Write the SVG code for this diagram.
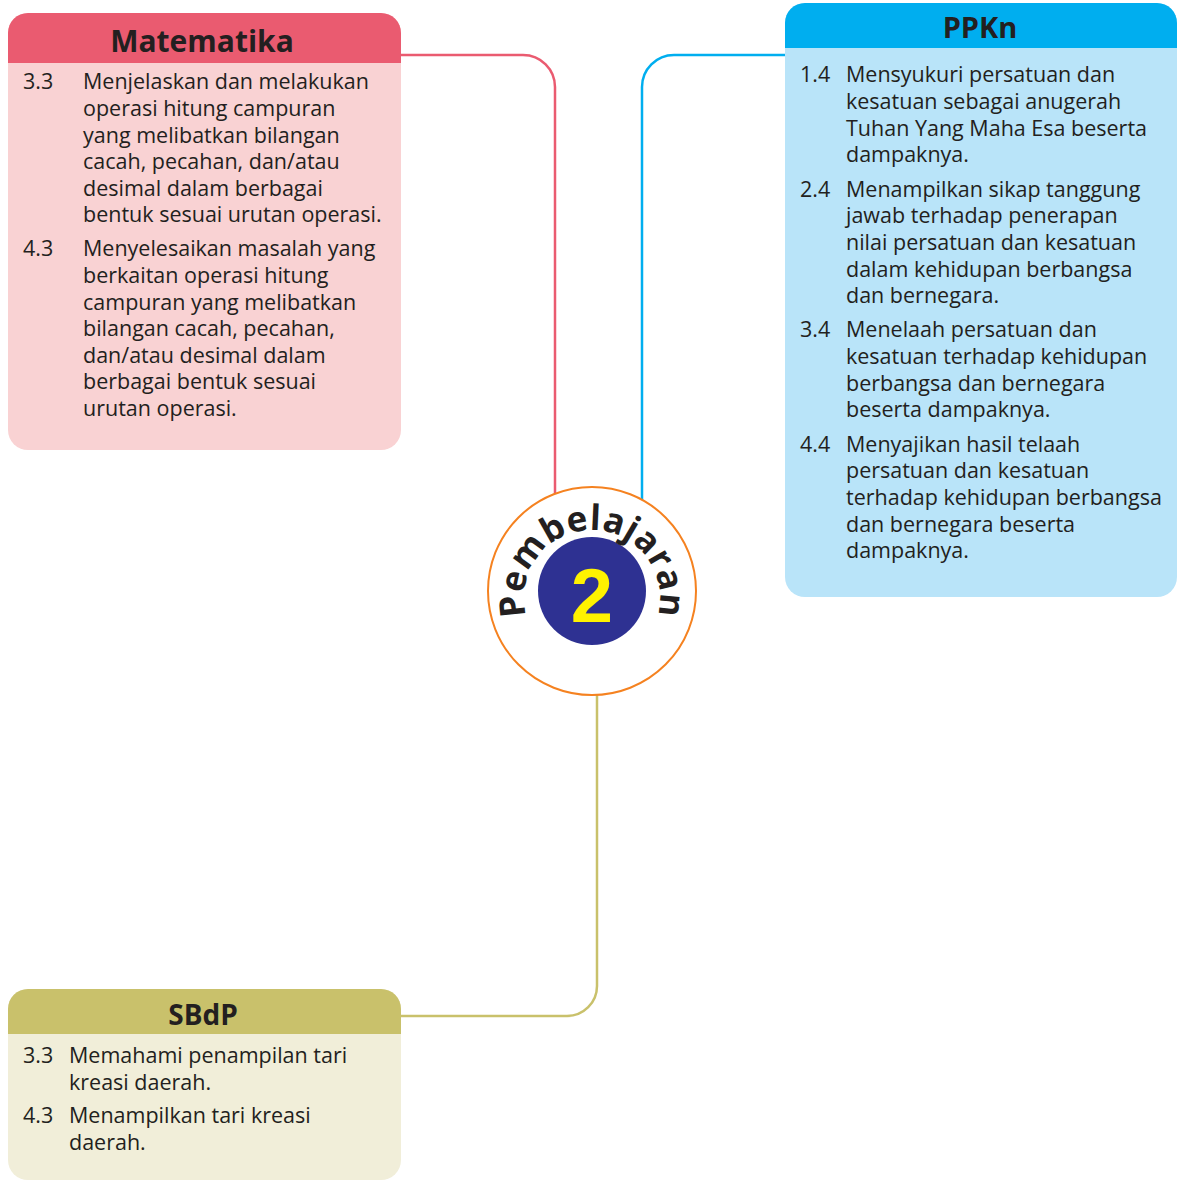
<svg xmlns="http://www.w3.org/2000/svg" width="1177" height="1181" viewBox="0 0 1177 1181">
  <style>
    .body { font-family: "Open Sans", "Noto Sans", sans-serif; font-size: 21.5px; fill: #231F20; }
    .head { font-family: "Open Sans", "Noto Sans", sans-serif; font-weight: 700; fill: #231F20; text-anchor: middle; }
    .conn { fill: none; stroke-width: 2.5; }
  </style>
  <defs>
    <!-- full circle starting at the bottom, so 50% sits at the top -->
    <path id="ringPath" d="M592,666 A68,68 0 1 1 592,530 A68,68 0 1 1 592,666"/>
  </defs>

  <rect width="1177" height="1181" fill="#FFFFFF"/>

  <!-- connectors from the centre badge to each subject box -->
  <g id="connectors">
    <path class="conn" stroke="#EA5B70" d="M401,55 H523 A32,32 0 0 1 555,87 V500"/>
    <path class="conn" stroke="#00AEEF" d="M785,55 H674 A32,32 0 0 0 642,87 V505"/>
    <path class="conn" stroke="#C9C16B" d="M597,680 V986 A30,30 0 0 1 567,1016 H401"/>
  </g>

  <!-- Matematika -->
  <g id="matematika">
    <rect x="8" y="13" width="393" height="437" rx="20" fill="#F9D2D3"/>
    <path d="M8,63 V33 A20,20 0 0 1 28,13 H381 A20,20 0 0 1 401,33 V63 Z" fill="#EA5B70"/>
    <text class="head" x="202" y="52" font-size="30">Matematika</text>
    <text class="body" x="23" y="89">3.3</text>
    <text class="body">
      <tspan x="83" y="89">Menjelaskan dan melakukan</tspan>
      <tspan x="83" y="116">operasi hitung campuran</tspan>
      <tspan x="83" y="142.5">yang melibatkan bilangan</tspan>
      <tspan x="83" y="169">cacah, pecahan, dan/atau</tspan>
      <tspan x="83" y="195.5">desimal dalam berbagai</tspan>
      <tspan x="83" y="222">bentuk sesuai urutan operasi.</tspan>
    </text>
    <text class="body" x="23" y="256">4.3</text>
    <text class="body">
      <tspan x="83" y="256">Menyelesaikan masalah yang</tspan>
      <tspan x="83" y="283">berkaitan operasi hitung</tspan>
      <tspan x="83" y="309.5">campuran yang melibatkan</tspan>
      <tspan x="83" y="336">bilangan cacah, pecahan,</tspan>
      <tspan x="83" y="362.5">dan/atau desimal dalam</tspan>
      <tspan x="83" y="389">berbagai bentuk sesuai</tspan>
      <tspan x="83" y="415.5">urutan operasi.</tspan>
    </text>
  </g>

  <!-- PPKn -->
  <g id="ppkn">
    <rect x="785" y="3" width="392" height="594" rx="20" fill="#B9E4F9"/>
    <path d="M785,48 V23 A20,20 0 0 1 805,3 H1157 A20,20 0 0 1 1177,23 V48 Z" fill="#00AEEF"/>
    <text class="head" x="980" y="38" font-size="29">PPKn</text>
    <text class="body" x="800" y="82">1.4</text>
    <text class="body">
      <tspan x="846" y="82">Mensyukuri persatuan dan</tspan>
      <tspan x="846" y="109">kesatuan sebagai anugerah</tspan>
      <tspan x="846" y="136">Tuhan Yang Maha Esa beserta</tspan>
      <tspan x="846" y="162">dampaknya.</tspan>
    </text>
    <text class="body" x="800" y="197">2.4</text>
    <text class="body">
      <tspan x="846" y="197">Menampilkan sikap tanggung</tspan>
      <tspan x="846" y="223">jawab terhadap penerapan</tspan>
      <tspan x="846" y="250">nilai persatuan dan kesatuan</tspan>
      <tspan x="846" y="277">dalam kehidupan berbangsa</tspan>
      <tspan x="846" y="303">dan bernegara.</tspan>
    </text>
    <text class="body" x="800" y="337">3.4</text>
    <text class="body">
      <tspan x="846" y="337">Menelaah persatuan dan</tspan>
      <tspan x="846" y="364">kesatuan terhadap kehidupan</tspan>
      <tspan x="846" y="391">berbangsa dan bernegara</tspan>
      <tspan x="846" y="417">beserta dampaknya.</tspan>
    </text>
    <text class="body" x="800" y="452">4.4</text>
    <text class="body">
      <tspan x="846" y="452">Menyajikan hasil telaah</tspan>
      <tspan x="846" y="478">persatuan dan kesatuan</tspan>
      <tspan x="846" y="505">terhadap kehidupan berbangsa</tspan>
      <tspan x="846" y="532">dan bernegara beserta</tspan>
      <tspan x="846" y="558">dampaknya.</tspan>
    </text>
  </g>

  <!-- SBdP -->
  <g id="sbdp">
    <rect x="8" y="989" width="393" height="191" rx="20" fill="#F1EED9"/>
    <path d="M8,1034 V1009 A20,20 0 0 1 28,989 H381 A20,20 0 0 1 401,1009 V1034 Z" fill="#C9C16B"/>
    <text class="head" x="203" y="1025" font-size="28">SBdP</text>
    <text class="body" x="23" y="1063">3.3</text>
    <text class="body">
      <tspan x="69" y="1063">Memahami penampilan tari</tspan>
      <tspan x="69" y="1090">kreasi daerah.</tspan>
    </text>
    <text class="body" x="23" y="1123">4.3</text>
    <text class="body">
      <tspan x="69" y="1123">Menampilkan tari kreasi</tspan>
      <tspan x="69" y="1150">daerah.</tspan>
    </text>
  </g>

  <!-- centre badge -->
  <g id="pembelajaran">
    <circle cx="592" cy="591" r="104" fill="#FFFFFF" stroke="#F58220" stroke-width="2"/>
    <circle cx="592" cy="591" r="54" fill="#2E3192"/>
    <text font-family="'Open Sans', 'Noto Sans', sans-serif" font-weight="700" font-size="35" letter-spacing="0.5" fill="#231F20">
      <textPath href="#ringPath" startOffset="50%" text-anchor="middle">Pembelajaran</textPath>
    </text>
    <text x="592" y="622" font-family="'Liberation Sans', Arial, sans-serif" font-weight="700" font-size="76" fill="#FFF200" text-anchor="middle">2</text>
  </g>
</svg>
